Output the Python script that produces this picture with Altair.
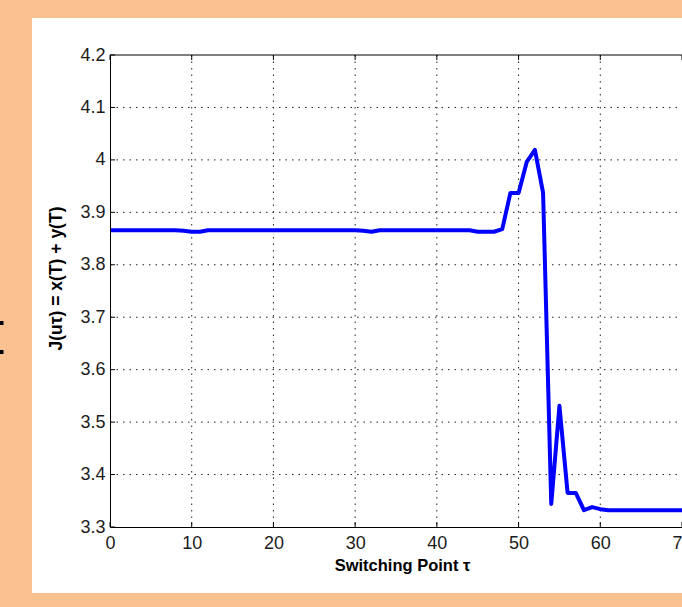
import altair as alt
import pandas as pd

# ---- data ----
T = list(range(0, 71))
J = [3.866, 3.866, 3.866, 3.866, 3.866, 3.866, 3.866, 3.866, 3.866, 3.865,
     3.863, 3.863, 3.866, 3.866, 3.866, 3.866, 3.866, 3.866, 3.866, 3.866,
     3.866, 3.866, 3.866, 3.866, 3.866, 3.866, 3.866, 3.866, 3.866, 3.866,
     3.866, 3.865, 3.863, 3.866, 3.866, 3.866, 3.866, 3.866, 3.866, 3.866,
     3.866, 3.866, 3.866, 3.866, 3.866, 3.863, 3.863, 3.863, 3.868, 3.937,
     3.937, 3.996, 4.019, 3.937, 3.344, 3.531, 3.365, 3.365, 3.332, 3.338,
     3.334, 3.332, 3.332, 3.332, 3.332, 3.332, 3.332, 3.332, 3.332, 3.332,
     3.332]
X_TICKS = [0, 10, 20, 30, 40, 50, 60, 70]
Y_TICKS = [3.3, 3.4, 3.5, 3.6, 3.7, 3.8, 3.9, 4.0, 4.1, 4.2]
X_GRID = [10, 20, 30, 40, 50, 60]
Y_GRID = [3.4, 3.5, 3.6, 3.7, 3.8, 3.9, 4.0, 4.1]

W, H = 572, 472
FONT = "Liberation Sans"
TXT = "#1c1c1c"

df = pd.DataFrame({"t": T, "v": J})
xg = pd.DataFrame({"t": X_GRID})
yg = pd.DataFrame({"v": Y_GRID})
xt = pd.DataFrame({"t": X_TICKS})
yt = pd.DataFrame({"v": Y_TICKS})
one = pd.DataFrame({"a": [0]})

xs = alt.Scale(domain=[0, 70], nice=False)
ys = alt.Scale(domain=[3.3, 4.2], nice=False, zero=False)

XAX = alt.Axis(
    values=X_TICKS, title="Switching Point \u03c4", grid=False, ticks=False,
    domainColor="black", domainWidth=1, labelFlush=False, labelFont=FONT,
    labelFontSize=18, labelColor=TXT, labelPadding=7, titleFont=FONT,
    titleFontSize=16.5, titleFontWeight="bold", titleColor="black",
    titlePadding=5, titleX=W / 2 + 6, zindex=1, format="d")
YAX = alt.Axis(
    values=Y_TICKS, title="J(u\u03c4) = x(T) + y(T)", grid=False, ticks=False,
    domainColor="black", domainWidth=1, labelFont=FONT,
    labelFontSize=18, labelColor=TXT, labelPadding=5, titleFont=FONT,
    titleFontSize=17.5, titleFontWeight="bold", titleColor="black",
    titlePadding=14, titleY=223, zindex=1, format="~g")

def X():
    return alt.X("t:Q", scale=xs, axis=XAX)

def Y():
    return alt.Y("v:Q", scale=ys, axis=YAX)

panel = alt.Chart(one).mark_rect(color="white").encode(
    x=alt.value(-78), x2=alt.value(W + 20), y=alt.value(-37), y2=alt.value(538)
)

dash = [1.5, 5]
vgrid = alt.Chart(xg).mark_rule(color="#222", strokeDash=dash, strokeWidth=1).encode(
    x=X(), y=alt.value(0), y2=alt.value(H)
)
hgrid = alt.Chart(yg).mark_rule(color="#222", strokeDash=dash, strokeWidth=1).encode(
    y=Y(), x=alt.value(0), x2=alt.value(W)
)

tick_b = alt.Chart(xt).mark_rule(color="black", strokeWidth=1).encode(
    x=X(), y=alt.value(H), y2=alt.value(H - 5)
)
tick_t = alt.Chart(xt).mark_rule(color="black", strokeWidth=1).encode(
    x=X(), y=alt.value(0), y2=alt.value(5)
)
tick_l = alt.Chart(yt).mark_rule(color="black", strokeWidth=1).encode(
    y=Y(), x=alt.value(0), x2=alt.value(5)
)
top_border = alt.Chart(one).mark_rule(color="black", strokeWidth=1).encode(
    x=alt.value(0), x2=alt.value(W), y=alt.value(0)
)

line = alt.Chart(df).mark_line(color="#0000FF", strokeWidth=4, strokeJoin="round").encode(
    x=X(), y=Y()
)

dots = alt.Chart(pd.DataFrame({"yy": [268, 297]})).mark_square(
    color="black", size=16, opacity=1, filled=True
).encode(x=alt.value(-108.5), y=alt.Y("yy:Q", scale=None, axis=None))

chart = alt.layer(panel, vgrid, hgrid, tick_b, tick_t, tick_l, top_border, line, dots).properties(
    width=W, height=H,
    autosize=alt.AutoSizeParams(type="none"),
    padding={"left": 110, "top": 55, "right": 0, "bottom": 80},
    background="#F9C18F",
).configure_view(stroke=None)

chart.save("out.html", embed_options={"renderer": "svg", "actions": False})
